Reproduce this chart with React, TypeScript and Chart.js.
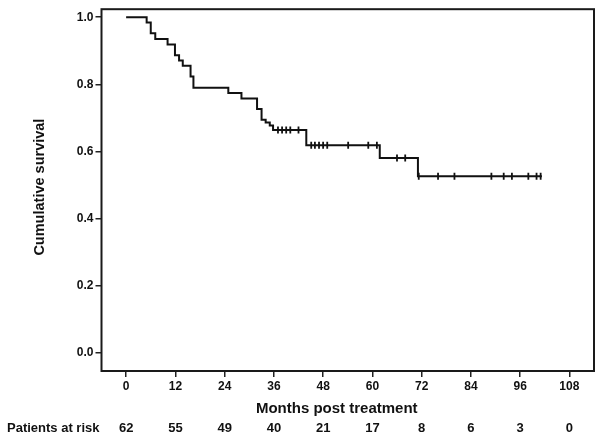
import React, { useEffect, useRef } from "react";
import { Chart, registerables } from "chart.js";

Chart.register(...registerables);

// Kaplan-Meier curve: survival after each step (months)
const eventMonths = [0, 5.0, 6.0, 7.1, 10.1, 11.9, 12.9, 13.8, 15.7, 16.4, 24.9, 28.1, 31.9, 33.0, 34.0, 35.0, 35.8, 43.9, 61.8, 71.1, 101.3];
const survival = [1.0, 0.984, 0.952, 0.935, 0.919, 0.887, 0.871, 0.855, 0.823, 0.79, 0.774, 0.758, 0.726, 0.694, 0.686, 0.677, 0.664, 0.618, 0.58, 0.526, 0.526];

// Censored observations
const censorMonths = [37.0, 38.0, 39.0, 40.0, 42.0, 45.1, 46.0, 47.0, 48.0, 49.0, 54.1, 59.0, 61.1, 66.0, 68.0, 71.3, 76.0, 80.0, 89.0, 92.0, 94.0, 98.0, 100.0, 101.0];
const censorSurvival = [0.664, 0.664, 0.664, 0.664, 0.664, 0.618, 0.618, 0.618, 0.618, 0.618, 0.618, 0.618, 0.618, 0.58, 0.58, 0.526, 0.526, 0.526, 0.526, 0.526, 0.526, 0.526, 0.526, 0.526];

const xTickMonths = [0, 12, 24, 36, 48, 60, 72, 84, 96, 108];
const yTickValues = [0, 0.2, 0.4, 0.6, 0.8, 1.0];
const atRisk = [62, 55, 49, 40, 21, 17, 8, 6, 3, 0];

const FONT = '"Liberation Sans", Arial, Helvetica, sans-serif';
const INK = "#111";

const framePlugin = {
  id: "kmFrame",
  afterDraw(chart: any) {
    const { ctx, chartArea } = chart;
    const { left, top, right, bottom } = chartArea;
    ctx.save();
    ctx.strokeStyle = "#1a1a1a";
    ctx.lineWidth = 2;
    ctx.strokeRect(left, top, right - left, bottom - top);

    ctx.fillStyle = INK;
    ctx.textBaseline = "middle";

    // x axis title
    ctx.textAlign = "center";
    ctx.font = `bold 15px ${FONT}`;
    ctx.fillText("Months post treatment", (left + right) / 2 - 11, 409);

    // patients at risk row
    ctx.font = `bold 13px ${FONT}`;
    ctx.textAlign = "left";
    ctx.fillText("Patients at risk", 7, 428);
    ctx.textAlign = "center";
    const xs = chart.scales.x;
    xTickMonths.forEach((m, i) => {
      ctx.fillText(String(atRisk[i]), xs.getPixelForValue(m), 428);
    });

    // y axis title
    ctx.translate(40, (top + bottom) / 2 - 3);
    ctx.rotate(-Math.PI / 2);
    ctx.font = `bold 14.5px ${FONT}`;
    ctx.fillText("Cumulative survival", 0, 0);
    ctx.restore();
  },
};

export default function App() {
  const ref = useRef<HTMLCanvasElement | null>(null);

  useEffect(() => {
    if (!ref.current) return;
    const chart = new Chart(ref.current, {
      type: "line",
      data: {
        datasets: [
          {
            label: "Survival",
            data: eventMonths.map((x, i) => ({ x, y: survival[i] })),
            stepped: "before",
            borderColor: INK,
            borderWidth: 2,
            pointRadius: 0,
            fill: false,
          } as any,
          {
            label: "Censored",
            type: "scatter",
            data: censorMonths.map((x, i) => ({ x, y: censorSurvival[i] })),
            showLine: false,
            pointStyle: "line",
            rotation: 90,
            pointRadius: 3.5,
            borderColor: INK,
            borderWidth: 1.8,
            backgroundColor: INK,
          } as any,
        ],
      },
      options: {
        responsive: false,
        maintainAspectRatio: false,
        animation: false,
        devicePixelRatio: 1,
        layout: { padding: { top: 6, right: 8, left: 0, bottom: 0 } },
        plugins: {
          legend: { display: false },
          tooltip: { enabled: false },
        },
        scales: {
          x: {
            type: "linear",
            min: -6,
            max: 114,
            afterBuildTicks: (scale: any) => {
              scale.ticks = xTickMonths.map((v) => ({ value: v }));
            },
            afterFit: (scale: any) => {
              scale.height = 67;
            },
            grid: {
              drawOnChartArea: false,
              drawTicks: true,
              tickLength: 6,
              color: "#222",
              lineWidth: 1.5,
            },
            border: { display: false },
            ticks: {
              color: INK,
              padding: 2,
              maxRotation: 0,
              autoSkip: false,
              font: { family: FONT, size: 12, weight: "bold" },
              callback: (v: any) => String(v),
            },
          },
          y: {
            type: "linear",
            min: -0.055,
            max: 1.024,
            afterBuildTicks: (scale: any) => {
              scale.ticks = yTickValues.map((v) => ({ value: v }));
            },
            afterFit: (scale: any) => {
              scale.width = 101.5;
            },
            grid: {
              drawOnChartArea: false,
              drawTicks: true,
              tickLength: 6,
              color: "#222",
              lineWidth: 1.5,
            },
            border: { display: false },
            ticks: {
              color: INK,
              padding: 2,
              autoSkip: false,
              font: { family: FONT, size: 12, weight: "bold" },
              callback: (v: any) => Number(v).toFixed(1),
            },
          },
        },
      },
      plugins: [framePlugin],
    });
    return () => chart.destroy();
  }, []);

  return (
    <div style={{ position: "absolute", left: 0, top: 0, width: 602, height: 438, background: "#fff" }}>
      <canvas ref={ref} width={602} height={438} style={{ display: "block" }} />
    </div>
  );
}
